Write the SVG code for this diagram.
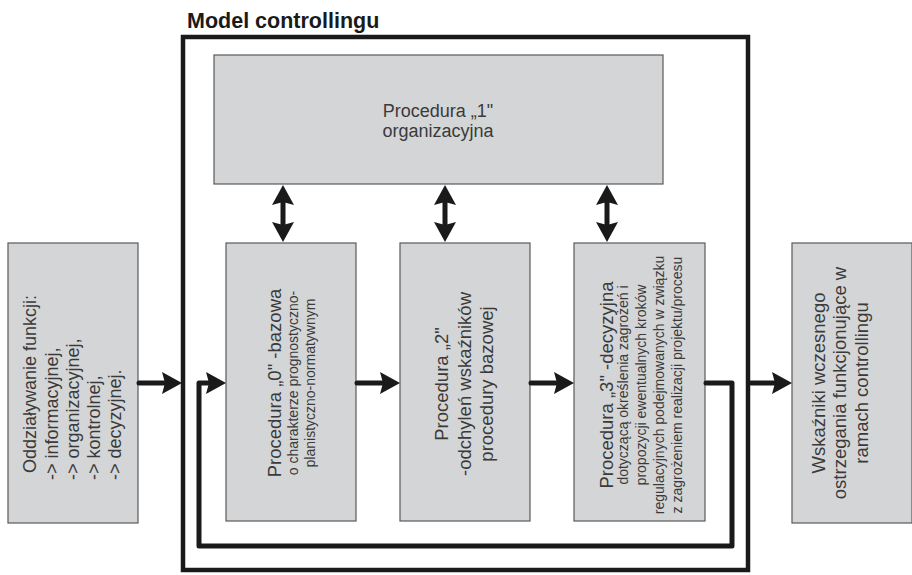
<svg xmlns="http://www.w3.org/2000/svg" width="912" height="575" viewBox="0 0 912 575">
  <style>
    .box { fill: #d4d5d6; stroke: #5a5a5a; stroke-width: 1.2; }
    .t { font-family: "Liberation Sans", Arial, sans-serif; fill: #3a3a3a; }
    .big { font-size: 18.5px; }
    .mid { font-size: 18px; }
    .small { font-size: 14px; }
    .conn { fill: none; stroke: #1a1a1a; stroke-width: 5; stroke-linecap: round; stroke-linejoin: round; }
    .frame { fill: none; stroke: #1a1a1a; stroke-width: 4.5; }
  </style>
  <defs>
    <marker id="ah" viewBox="0 0 20 22" refX="10" refY="11" markerWidth="20" markerHeight="22" markerUnits="userSpaceOnUse" orient="auto-start-reverse">
      <path d="M0,0 L20,11 L0,22 L3,11 Z" fill="#1a1a1a"/>
    </marker>
  </defs>
  <rect width="912" height="575" fill="#ffffff"/>

  <g id="frame">
    <rect class="frame" x="183" y="37" width="565" height="533"/>
    <text class="t" x="187" y="28" font-size="21.5" font-weight="bold" fill="#1a1a1a" style="fill:#1a1a1a">Model controllingu</text>
  </g>

  <g id="node-input">
    <rect class="box" x="8" y="243" width="130" height="280"/>
    <g transform="translate(0,480) rotate(-90)">
      <text class="t mid" x="7" y="36">Oddziaływanie funkcji:</text>
      <text class="t mid" x="0" y="57.5">-&gt; informacyjnej,</text>
      <text class="t mid" x="0" y="79">-&gt; organizacyjnej,</text>
      <text class="t mid" x="0" y="100">-&gt; kontrolnej,</text>
      <text class="t mid" x="0" y="121">-&gt; decyzyjnej.</text>
    </g>
  </g>

  <g id="node-p1">
    <rect class="box" x="214" y="55" width="449" height="129"/>
    <text class="t mid" x="438" y="117" text-anchor="middle">Procedura „1"</text>
    <text class="t mid" x="438" y="137" text-anchor="middle">organizacyjna</text>
  </g>

  <g id="node-p0">
    <rect class="box" x="226" y="243" width="130" height="278"/>
    <g transform="translate(0,383) rotate(-90)" text-anchor="middle">
      <text class="t big" x="0" y="281">Procedura „0" -bazowa</text>
      <text class="t small" x="0" y="298">o charakterze prognostyczno-</text>
      <text class="t small" x="0" y="315">planistyczno-normatywnym</text>
    </g>
  </g>

  <g id="node-p2">
    <rect class="box" x="400" y="243" width="130" height="278"/>
    <g transform="translate(0,384) rotate(-90)" text-anchor="middle">
      <text class="t big" x="0" y="448">Procedura „2"</text>
      <text class="t big" x="0" y="470.5">-odchyleń wskaźników</text>
      <text class="t big" x="0" y="493">procedury bazowej</text>
    </g>
  </g>

  <g id="node-p3">
    <rect class="box" x="574" y="243" width="131" height="278"/>
    <g transform="translate(0,385) rotate(-90)" text-anchor="middle">
      <text class="t big" x="0" y="613">Procedura „3" -decyzyjna</text>
      <text class="t small" x="0" y="628">dotyczącą określenia zagrożeń i</text>
      <text class="t small" x="0" y="646">propozycji ewentualnych kroków</text>
      <text class="t small" x="0" y="664">regulacyjnych podejmowanych w związku</text>
      <text class="t small" x="0" y="682">z zagrożeniem realizacji projektu/procesu</text>
    </g>
  </g>

  <g id="node-output">
    <rect class="box" x="792" y="243" width="120" height="280"/>
    <g transform="translate(0,383) rotate(-90)" text-anchor="middle">
      <text class="t big" x="0" y="825">Wskaźniki wczesnego</text>
      <text class="t big" x="0" y="846">ostrzegania funkcjonujące w</text>
      <text class="t big" x="0" y="868">ramach controllingu</text>
    </g>
  </g>

  <g id="connectors">
    <line class="conn" x1="283" y1="195" x2="283" y2="232" marker-start="url(#ah)" marker-end="url(#ah)"/>
    <line class="conn" x1="445" y1="195" x2="445" y2="232" marker-start="url(#ah)" marker-end="url(#ah)"/>
    <line class="conn" x1="607" y1="195" x2="607" y2="232" marker-start="url(#ah)" marker-end="url(#ah)"/>
    <line class="conn" x1="139" y1="383" x2="172" y2="383" marker-end="url(#ah)"/>
    <line class="conn" x1="357" y1="383" x2="390" y2="383" marker-end="url(#ah)"/>
    <line class="conn" x1="531" y1="383" x2="564" y2="383" marker-end="url(#ah)"/>
    <line class="conn" x1="751" y1="383" x2="782" y2="383" marker-end="url(#ah)"/>
    <path class="conn" d="M706,383 H732 V546 H199 V383 H216" marker-end="url(#ah)"/>
  </g>
</svg>
